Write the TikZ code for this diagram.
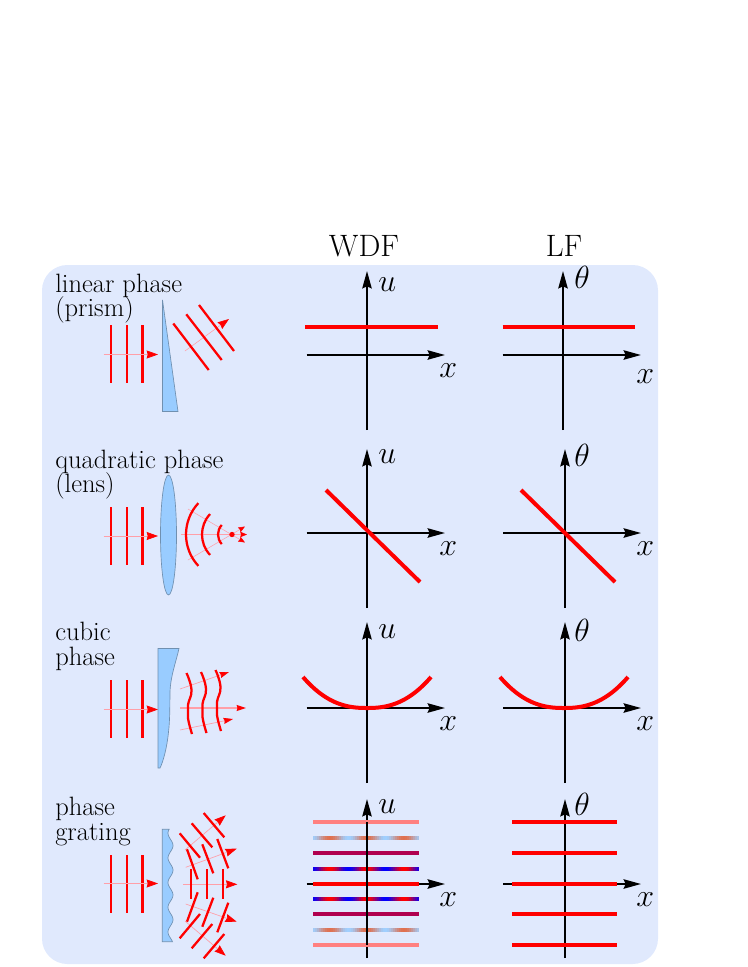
\documentclass[tikz,border=0pt]{standalone}
\usepackage{fix-cm}
\usetikzlibrary{arrows.meta}
\definecolor{panelbg}{HTML}{E0E9FD}
\definecolor{opt}{HTML}{99CCFF}
\definecolor{optline}{HTML}{7090B0}
\definecolor{raypink}{HTML}{FF9FA8}
\definecolor{pinkline}{HTML}{FF8080}
\definecolor{purpleline}{HTML}{B0004F}
\definecolor{lblue}{HTML}{A0CFFF}
\definecolor{lorange}{HTML}{E07050}
\tikzset{
  axis/.style={line width=1.6pt,black,-{Stealth[length=13pt,width=7pt,inset=1.5pt]}},
  plotline/.style={line width=3pt,red},
  wave/.style={line width=1.7pt,red},
  ray/.style={line width=0.5pt,raypink,-{Stealth[length=8.5pt,width=6pt,inset=0.8pt,red]}},
  rayshort/.style={line width=0.5pt,raypink,-{Stealth[length=7pt,width=4.5pt,inset=0.6pt,red]}},
  optic/.style={fill=opt,draw=optline,line width=0.5pt},
  lbl/.style={anchor=base west,inner sep=0pt,font=\fontsize{19.9}{23}\selectfont},
  head/.style={anchor=base,inner sep=0pt,font=\fontsize{23.2}{27}\selectfont},
  mlab/.style={anchor=base west,inner sep=0pt,font=\fontsize{24}{28}\selectfont},
}
\newcommand{\myaxes}[6]{% cx cy left right top bottom
  \draw[axis] (#3,#2) -- (#4,#2);
  \draw[axis] (#1,#6) -- (#1,#5);
}
\newcommand{\threewaves}[3]{% top bottom rayy
  \foreach \wx in {110.7,126.7,142.4}{\draw[wave] (\wx,#1) -- (\wx,#2);}
  \draw[ray] (103.5,#3) -- (158,#3);
}
\newcommand{\mottled}[3]{% y colA colB
  \foreach \i in {0,...,52}{
    \pgfmathsetmacro{\xa}{313+2*\i}
    \pgfmathsetmacro{\mixv}{50+50*cos((\xa+1-367)*9.73)}
    \fill[#3!\mixv!#2] (\xa,#1-2) rectangle ++(2.2,4);
  }
}
\begin{document}
\begin{tikzpicture}[x=0.75pt,y=-0.75pt]
\useasboundingbox (0,0) rectangle (747,967);
\fill[panelbg,rounded corners=19pt] (42,265) rectangle (658,964);

% headings
\node[head] (hw) at (364,256) {WDF};
\node[head] (hl) at (564,256) {LF};

% row labels
\node[lbl] (l1a) at (55,292) {linear phase};
\node[lbl] (l1b) at (55,316) {(prism)};
\node[lbl] (l2a) at (55,468) {quadratic phase};
\node[lbl] (l2b) at (55,492) {(lens)};
\node[lbl] (l3a) at (55,640) {cubic};
\node[lbl] (l3b) at (55,665) {phase};
\node[lbl] (l4a) at (55,815) {phase};
\node[lbl] (l4b) at (55,840) {grating};

% Row 1 optics
\threewaves{325}{383}{354.5}
\draw[optic] (162.5,300) -- (162.5,411.5) -- (178,411.5) -- cycle;
\draw[rayshort,line width=0.4pt,-{Stealth[length=8.5pt,width=6pt,inset=0.8pt,red]}] (185,351) -- (229,319);
\draw[wave] (173.3,323.5) -- (208.7,370);
\draw[wave] (186.3,314.3) -- (221.7,360);
\draw[wave] (199,305) -- (234,351);

% Row 2 optics
\threewaves{507}{565}{536}
\draw[optic] (168.5,535) ellipse [x radius=8,y radius=60];
\coordinate (fp) at (232,534.5);
\draw[line width=0.4pt,raypink,-{Stealth[length=5pt,width=4pt,inset=0.5pt,red]}] (188,509) -- (245,542.5);
\draw[line width=0.4pt,raypink,-{Stealth[length=5pt,width=4pt,inset=0.5pt,red]}] (188,560) -- (245,526.5);
\draw[line width=0.4pt,raypink,-{Stealth[length=5pt,width=4pt,inset=0.5pt,red]}] (181,534.5) -- (247,534.5);
\fill[red] (fp) circle (2pt);
\foreach \rr in {46,30,14}{
  \draw[wave] ([shift={(fp)}] 223:\rr) arc[start angle=223,end angle=137,radius=\rr];
}

% Row 3 optics
\threewaves{680}{738}{709.5}
\draw[optic] (158,648.5) -- (179,648.5) .. controls (176,662) and (170.5,676) .. (170,692)
  .. controls (169.8,705) and (170,720) .. (168.5,732) .. controls (167,748) and (163,762) .. (160,768) -- (158,768) -- cycle;
\draw[rayshort] (180,689) -- (229,672);
\draw[rayshort,line width=0.9pt] (180,708) -- (246,708);
\draw[rayshort] (180,730) -- (233,719);
\foreach \dx/\dy in {0/0,14.5/-1,29/-3}{
  \begin{scope}[shift={(\dx,\dy)}]
    \draw[wave] plot[smooth,tension=0.8] coordinates {(186.5,673) (191.5,690) (188,705) (188,718) (192,734)};
  \end{scope}
}

% Row 4 optics
\threewaves{855}{912.7}{883.5}
\draw[optic] (162.3,829.3) -- (162.3,941.7) -- (170,941.7)
  -- plot[domain=941.7:829.3,samples=80] ({170.5+2.5*cos((\x-845.5)*14.575)},\x) -- cycle;
\draw[ray] (183.3,884.3) -- (237.3,884.3);
\draw[ray] (185.7,867.3) -- (236.7,848.7);
\draw[ray] (185,850) -- (225.7,815.3);
\draw[ray] (185.7,904) -- (236.7,921.7);
\draw[ray] (185,921) -- (225.7,955.7);
\foreach \xa/\ya/\xb/\yb in {
  191/869/191/899, 206.7/869/206.7/899, 222.7/869/222.7/899,
  187/849.3/197.7/879.3, 202.3/844.3/213.3/873.3, 217.3/839/228.3/868.3,
  179.7/833.3/200/857.7, 191.7/823.3/212.3/847.3, 203.7/813/224.3/837.3,
  197.7/892.3/187/921.7, 213.3/897.7/202.3/926.7, 228.3/902.7/217.3/932.3,
  200/914/179.7/938.3, 212.3/924/191.7/948.3, 224.3/934/203.7/958.3}{
  \draw[wave] (\xa,\ya) -- (\xb,\yb);
}

% Row 1 plots
\myaxes{367}{355}{306.7}{445}{271}{430}
\draw[plotline] (305,327) -- (438,327);
\myaxes{563}{355}{502.7}{641}{271}{430}
\draw[plotline] (502.7,327) -- (635,327);
\node[mlab] (u1) at (378,291) {$u$};
\node[mlab] (t1) at (574,288) {$\theta$};
\node[mlab] (x1) at (439,377) {$x$};
\node[mlab] (x1b) at (636,383) {$x$};

% Row 2 plots
\myaxes{367}{533}{306.7}{445}{449}{608}
\draw[plotline] (326,490) -- (420,582);
\myaxes{565}{533}{503}{641}{449}{608}
\draw[plotline] (521,490) -- (615,582);
\node[mlab] (u2) at (378,463) {$u$};
\node[mlab] (t2) at (574,466) {$\theta$};
\node[mlab] (x2) at (439,555) {$x$};
\node[mlab] (x2b) at (636,555) {$x$};

% Row 3 plots
\myaxes{367}{708}{306.7}{445}{622}{783}
\draw[plotline] plot[domain=-64:64,samples=60,smooth] ({367+\x},{708-31*(abs(\x)/64)^2.4});
\myaxes{565}{708}{503}{641}{622}{783}
\draw[plotline] plot[domain=-64:64,samples=60,smooth] ({564+\x},{708-31*(abs(\x)/64)^2.4});
\node[mlab] (u3) at (378,638) {$u$};
\node[mlab] (t3) at (574,641) {$\theta$};
\node[mlab] (x3) at (439,730) {$x$};
\node[mlab] (x3b) at (636,730) {$x$};

% Row 4 plots
\myaxes{367}{884}{306.7}{445}{799}{958}
\foreach \yy in {822,945}{\draw[line width=3pt,pinkline] (313,\yy) -- (419,\yy);}
\foreach \yy in {853,914}{\draw[line width=3pt,purpleline] (313,\yy) -- (419,\yy);}
\mottled{837.5}{lblue}{lorange}
\mottled{930}{lblue}{lorange}
\mottled{868.5}{blue}{red}
\mottled{899}{blue}{red}
\draw[plotline] (313,884) -- (419,884);
\draw[line width=1.6pt] (367,822) -- (367,945);
\myaxes{565}{884}{503}{641}{799}{958}
\foreach \yy in {822,853,884,914,945}{\draw[plotline] (512,\yy) -- (617,\yy);}
\node[mlab] (u4) at (378,813) {$u$};
\node[mlab] (t4) at (574,815) {$\theta$};
\node[mlab] (x4) at (439,906) {$x$};
\node[mlab] (x4b) at (636,906) {$x$};
\end{tikzpicture}
\end{document}
